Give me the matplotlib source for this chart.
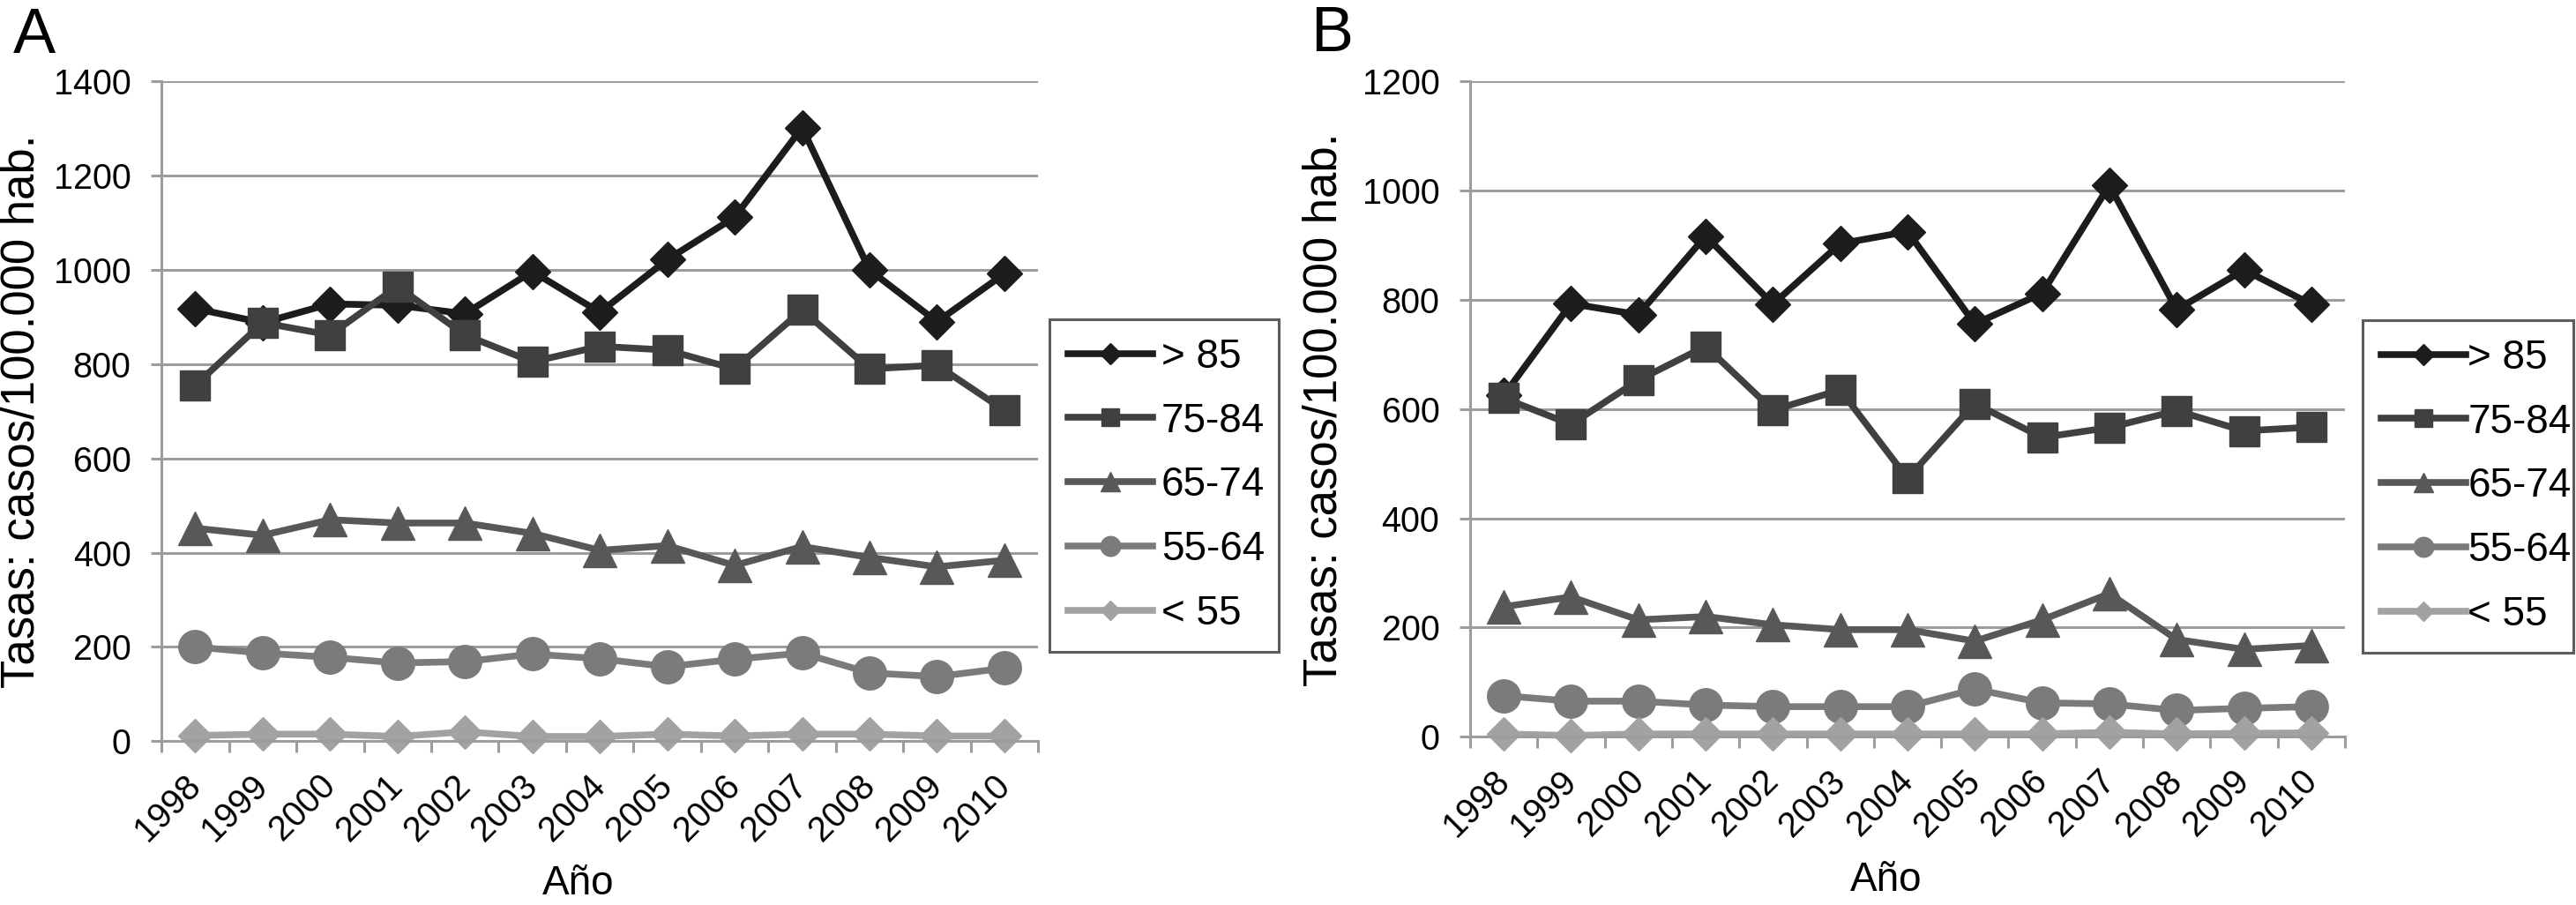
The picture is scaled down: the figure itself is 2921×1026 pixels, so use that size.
import numpy as np
import matplotlib
matplotlib.use("Agg")
import matplotlib.pyplot as plt

plt.rcParams['font.family'] = ['Liberation Sans', 'DejaVu Sans']

years = ['1998', '1999', '2000', '2001', '2002', '2003', '2004',
         '2005', '2006', '2007', '2008', '2009', '2010']
labels = ['> 85', '75-84', '65-74', '55-64', '< 55']

# panel A
a_gt85 = [918, 888, 928, 925, 907, 997, 910, 1022, 1112, 1302, 1000, 890, 992]
a_75_84 = [755, 888, 862, 965, 862, 805, 838, 830, 790, 915, 790, 798, 702]
a_65_74 = [452, 437, 470, 463, 463, 441, 405, 415, 373, 413, 390, 370, 384]
a_55_64 = [200, 187, 178, 166, 169, 185, 175, 158, 174, 187, 145, 137, 155]
a_lt55 = [12, 15, 15, 10, 20, 10, 10, 15, 11, 15, 15, 11, 11]

# panel B
b_gt85 = [625, 793, 773, 917, 792, 903, 925, 756, 812, 1010, 782, 855, 792]
b_75_84 = [620, 572, 653, 715, 598, 635, 473, 610, 548, 566, 597, 560, 567]
b_65_74 = [238, 256, 214, 220, 205, 196, 196, 175, 214, 262, 178, 160, 167]
b_55_64 = [75, 65, 65, 58, 55, 55, 55, 87, 62, 60, 48, 52, 55]
b_lt55 = [5, 2, 5, 5, 5, 5, 5, 5, 5, 8, 5, 6, 7]

colors = ['#1c1c1c', '#404040', '#585858', '#7b7b7b', '#a2a2a2']
markers = ['D', 's', '^', 'o', 'D']
msizes = [20, 25, 27, 27, 19]
grid_col = '#9c9c9c'


def draw_panel(ax, series, ymax):
    x = np.arange(len(years))
    for vals, c, m, ms, lab in zip(series, colors, markers, msizes, labels):
        ax.plot(x, vals, color=c, marker=m, markersize=ms, linewidth=5.5,
                markeredgecolor=c, markeredgewidth=1, label=lab,
                clip_on=False, solid_joinstyle='round')
    ax.set_xlim(-0.5, len(years) - 0.5)
    ax.set_ylim(0, ymax)
    ax.set_yticks(np.arange(0, ymax + 1, 200))
    ax.yaxis.grid(True, color=grid_col, linewidth=2.2)
    ax.set_axisbelow(True)
    for s in ['top', 'right']:
        ax.spines[s].set_visible(False)
    for s in ['left', 'bottom']:
        ax.spines[s].set_color(grid_col)
        ax.spines[s].set_linewidth(2.2)
    ax.tick_params(axis='y', length=9, width=2.2, color=grid_col,
                   labelsize=28.5, pad=16)
    ax.set_xticks(x)
    ax.set_xticklabels(years, rotation=45, ha='right', va='center',
                       rotation_mode='anchor', fontsize=28.5)
    ax.tick_params(axis='x', which='major', length=0, pad=32)
    ax.set_xticks(np.arange(-0.5, len(years)), minor=True)
    ax.tick_params(axis='x', which='minor', length=9, width=2.2,
                   color=grid_col)
    ax.set_ylabel('Tasas: casos/100.000 hab.', fontsize=38)
    ax.set_xlabel('Año', fontsize=33)


def add_legend(ax, box, textpad):
    leg = ax.legend(loc='upper left', bbox_to_anchor=box, mode='expand',
                    bbox_transform=fig.transFigure, fontsize=33,
                    fancybox=False, edgecolor='#333333', borderaxespad=0,
                    handlelength=2.1, handletextpad=textpad,
                    labelspacing=0.63, borderpad=0.45, markerscale=0.6)
    leg.get_frame().set_linewidth(2.2)
    return leg


fig = plt.figure(figsize=(29.21, 10.26), dpi=100)
axA = fig.add_axes([0.0627, 0.181, 0.3403, 0.729])
axB = fig.add_axes([0.5707, 0.186, 0.3396, 0.724])

draw_panel(axA, [a_gt85, a_75_84, a_65_74, a_55_64, a_lt55], 1400)
draw_panel(axB, [b_gt85, b_75_84, b_65_74, b_55_64, b_lt55], 1200)

axA.yaxis.set_label_coords(-0.134, 0.5)
axB.yaxis.set_label_coords(-0.142, 0.5)
axA.xaxis.set_label_coords(0.475, -0.187)
axB.xaxis.set_label_coords(0.475, -0.19)

# legend boxes in figure fraction (x0, y0, width, height)
add_legend(axA, (1190 / 2921, 1 - 735 / 1026, 260 / 2921, 373 / 1026), 0.22)
add_legend(axB, (2679 / 2921, 1 - 730 / 1026, 239 / 2921, 367 / 1026), 0.05)

fig.text(15 / 2921, 1 - 8 / 1026, 'A', fontsize=52, ha='left', va='top')
fig.text(1486 / 2921, 1 - 6 / 1026, 'B', fontsize=52, ha='left', va='top')

fig.savefig('out.png', dpi=100)
plt.close(fig)
